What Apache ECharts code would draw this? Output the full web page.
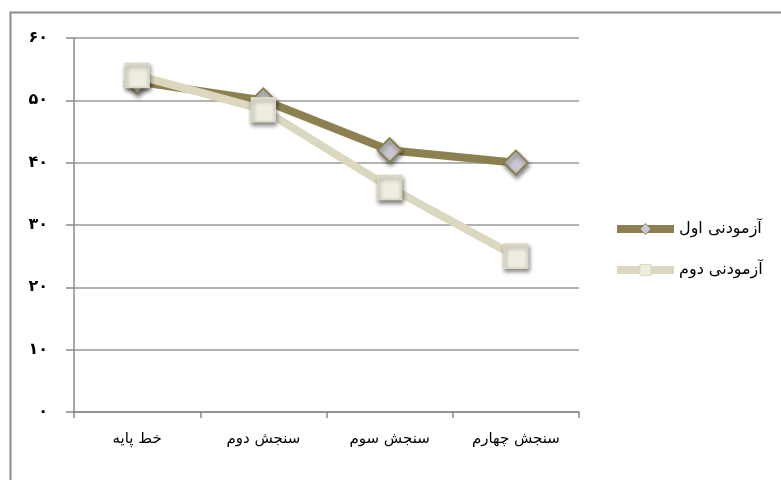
<!DOCTYPE html>
<html><head><meta charset="utf-8">
<script src="https://cdn.jsdelivr.net/npm/echarts@6/dist/echarts.min.js"></script>
<style>html,body{margin:0;padding:0;background:#fff}#c{width:781px;height:480px}</style>
</head><body><div id="c"></div>
<script>
const categories = ['خط پایه', 'سنجش دوم', 'سنجش سوم', 'سنجش چهارم'];
const series1Name = 'آزمودنی اول';
const series2Name = 'آزمودنی دوم';
const series1 = [53, 50, 42, 40];
const series2 = [54, 48.5, 36, 25];
const yTickLabels = {0:'۰',10:'۱۰',20:'۲۰',30:'۳۰',40:'۴۰',50:'۵۰',60:'۶۰'};

const chart = echarts.init(document.getElementById('c'), null, {renderer:'canvas'});
const shadow = {shadowBlur:4, shadowColor:'rgba(0,0,0,0.45)', shadowOffsetY:3, shadowOffsetX:1};
chart.setOption({
  animation:false,
  backgroundColor:'#fff',
  graphic:[{type:'rect', left:8, top:10, shape:{width:800, height:500}, style:{fill:'none', stroke:'#8c8c8c', lineWidth:2}, silent:true}],
  grid:{left:74, right:202, top:38, bottom:68, containLabel:false},
  legend:{
    orient:'vertical', left:613, top:221, padding:0, itemWidth:57, itemHeight:14, itemGap:25,
    textStyle:{fontFamily:'DejaVu Sans', fontSize:16, color:'#000'},
    data:[
      {name:series1Name, lineStyle:{width:8, color:'#8c8050'}, itemStyle:{color:'#c9c8d2', borderColor:'#8c8050', borderWidth:1, shadowBlur:0, shadowOffsetY:0, shadowOffsetX:0}},
      {name:series2Name, lineStyle:{width:8, color:'#dcd8c0'}, itemStyle:{color:'#efece0', borderColor:'#dcd8c0', borderWidth:1, shadowBlur:0, shadowOffsetY:0, shadowOffsetX:0}}
    ]
  },
  xAxis:{
    type:'category', data:categories, boundaryGap:true,
    axisLine:{lineStyle:{color:'#8a8a8a', width:1.5}},
    axisTick:{show:true, length:6, alignWithLabel:false, lineStyle:{color:'#8a8a8a', width:1.5}},
    axisLabel:{fontFamily:'DejaVu Sans', fontSize:15, color:'#000', margin:20}
  },
  yAxis:{
    type:'value', min:0, max:60, interval:10,
    axisLine:{show:true, lineStyle:{color:'#8a8a8a', width:1.5}},
    axisTick:{show:true, length:8, lineStyle:{color:'#8a8a8a', width:1.5}},
    splitLine:{lineStyle:{color:'#999', width:1.5}},
    axisLabel:{fontFamily:'DejaVu Sans', fontSize:16, fontWeight:'bold', color:'#000', margin:26,
      formatter:v=>yTickLabels[v]}
  },
  series:[
    {name:series1Name, type:'line', data:series1, symbol:'diamond', symbolSize:24,
     lineStyle:{color:'#8c8050', width:8},
     itemStyle:Object.assign({color:'#c9c8d2', borderColor:'#8c8050', borderWidth:2}, shadow),
     z:2},
    {name:series2Name, type:'line', data:series2, symbol:'rect', symbolSize:24,
     lineStyle:{color:'#dcd8c0', width:8},
     itemStyle:Object.assign({color:'#efece0', borderColor:'#dcd8c0', borderWidth:1.5}, shadow),
     z:3}
  ]
});
</script></body></html>
